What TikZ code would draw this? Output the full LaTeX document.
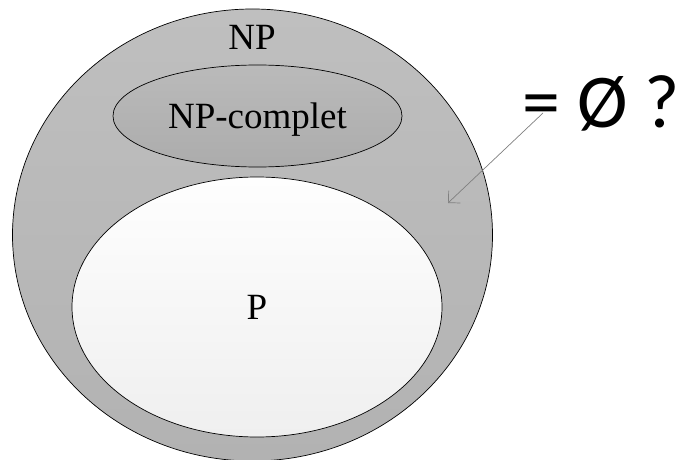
\documentclass[tikz,border=0pt]{standalone}
\usepackage{fontspec}
\setmainfont{Liberation Serif}
\newfontfamily\qfont{Carlito}
\usetikzlibrary{shapes.geometric,arrows.meta}

\definecolor{npTop}{RGB}{191,191,191}
\definecolor{npBot}{RGB}{178,178,178}
\definecolor{npcTop}{RGB}{186,186,186}
\definecolor{npcBot}{RGB}{172,172,172}
\definecolor{pTop}{RGB}{254,254,254}
\definecolor{pBot}{RGB}{239,239,239}

\begin{document}
\begin{tikzpicture}[x=1pt,y=1pt]
				\tikzstyle{every node}+=[inner sep=0pt]
				\tikzstyle{setnode}=[ellipse,draw=black,line width=0.7pt,text depth=0pt,font=\fontsize{37}{40}\selectfont]
				\tikzstyle{arrowline}=[draw=gray,line width=0.7pt,-{Straight Barb[angle'=90,length=8.5pt]}]
				\useasboundingbox (0,0) rectangle (675,459);
				% the sets
				\node [setnode,top color=npTop,bottom color=npBot,minimum width=480pt,minimum height=452pt] (np) at (252.5,224) {};
				\node [font=\fontsize{37}{40}\selectfont] (nplabel) at (252,422) {NP};
				\node [setnode,top color=npcTop,bottom color=npcBot,minimum width=289pt,minimum height=102pt] (npc) at (257.5,343) {NP-complet};
				\node [setnode,top color=pTop,bottom color=pBot,minimum width=370pt,minimum height=260pt] (p) at (257,152) {P};
				% the question
				\node [anchor=base west,font=\qfont\fontsize{76}{84}\selectfont] (eq) at (522,332) {= Ø ?};
				\coordinate (gap) at (448,256);
				\draw [arrowline] ([shift={(21,14)}]eq.base west) -- (gap);
\end{tikzpicture}
\end{document}
